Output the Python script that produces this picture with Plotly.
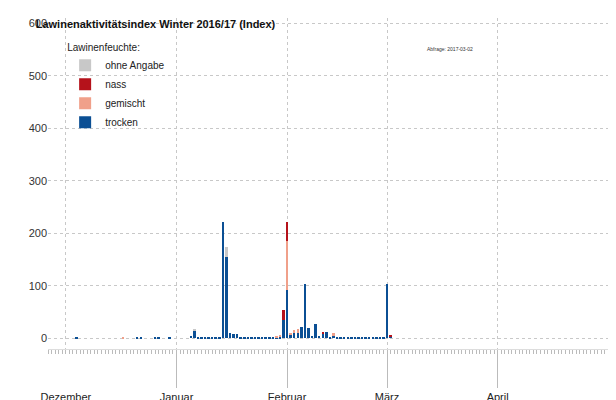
import plotly.graph_objects as go
import pandas as pd

dates = pd.date_range("2016-12-01", "2017-03-02").strftime("%Y-%m-%d").tolist()

dez_trocken = [0,0,0,2,0,0,0,0,0,0,0,0,0,0,0,0,0,0,0,0,2,2,0,0,0,2,2,0,0,2,0]
dez_gemischt = [0]*16 + [2] + [0]*14
jan_trocken = [0,0,0,0,5,15,2,2,2,2,2,2,3,222,155,10,8,9,2,3,3,2,3,2,2,2,2,2,2,2,35]
jan_gemischt = [0]*28 + [3,4,0]
jan_nass = [0]*30 + [20]
jan_ohne = [0]*5 + [3] + [0]*8 + [20] + [0]*16
feb_trocken = [93,8,10,10,22,103,20,5,27,5,8,12,3,5,3,2,3,2,3,2,2,3,2,3,2,2,2,2]
feb_gemischt = [92,3,7,8,0,0,0,0,0,0,0,0,0,5] + [0]*14
feb_nass = [37] + [0]*9 + [4] + [0]*17
mar_trocken = [103, 4]
mar_nass = [0, 3]

trocken = dez_trocken + jan_trocken + feb_trocken + mar_trocken
gemischt = dez_gemischt + jan_gemischt + feb_gemischt + [0, 0]
nass = [0]*31 + jan_nass + feb_nass + mar_nass
ohne = [0]*31 + jan_ohne + [0]*28 + [0, 0]

month_starts = ["2016-12-01", "2017-01-01", "2017-02-01", "2017-03-01", "2017-04-01"]
month_names = ["Dezember", "Januar", "Februar", "März", "April"]

fig = go.Figure()
for name, vals, col in [("trocken", trocken, "#0b4f94"), ("gemischt", gemischt, "#f0a08a"),
                        ("nass", nass, "#b5121b"), ("ohne Angabe", ohne, "#c8c8c8")]:
    fig.add_bar(x=dates, y=vals, name=name, marker_color=col, marker_line_width=0)

fig.update_layout(
    barmode="stack", bargap=0.3, width=616, height=400,
    paper_bgcolor="white", plot_bgcolor="white",
    margin=dict(l=40, r=5, t=10, b=39),
    font=dict(family="Liberation Sans, Arial", color="#222"),
    legend=dict(x=0.03, y=0.94, xanchor="left", yanchor="top", traceorder="reversed",
                title=dict(text="Lawinenfeuchte:", font=dict(size=10)), font=dict(size=10),
                itemwidth=30, tracegroupgap=0, bgcolor="rgba(0,0,0,0)"),
    title=dict(text="<b>Lawinenaktivitätsindex Winter 2016/17 (Index)</b>", x=0.045, y=0.96,
               xanchor="left", yanchor="middle", font=dict(size=11, color="#111")),
    showlegend=True,
)
fig.add_annotation(text="Abfrage: 2017-03-02", xref="paper", yref="paper", x=0.66, y=0.92,
                   showarrow=False, font=dict(size=5, color="#333"), xanchor="left")
fig.update_yaxes(range=[-20, 610], tickvals=[0, 100, 200, 300, 400, 500, 600],
                 showgrid=True, gridcolor="#c8c8c8", griddash="dot", zeroline=False,
                 tickfont=dict(size=11, color="#333"), showline=False)
fig.update_xaxes(type="date", range=["2016-11-26", "2017-05-05"],
                 tickvals=month_starts, ticktext=month_names, ticklabelmode="period",
                 showgrid=True, gridcolor="#c8c8c8", griddash="dot",
                 ticks="outside", ticklen=38, tickcolor="#bbb", tickfont=dict(size=11, color="#222"),
                 showline=True, linecolor="#ddd",
                 minor=dict(dtick=86400000, ticks="outside", ticklen=4, tickcolor="#bbb", showgrid=False))
fig.write_html("out.html")
